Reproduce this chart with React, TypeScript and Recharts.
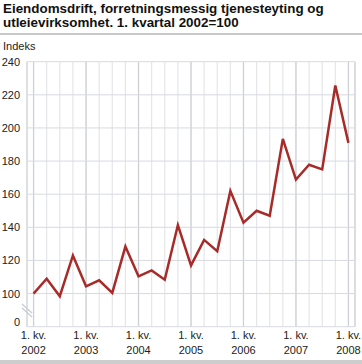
import React from 'react';
import { LineChart, Line, XAxis, YAxis, CartesianGrid } from 'recharts';

const PERIODS = [
  '2002K1', '2002K2', '2002K3', '2002K4',
  '2003K1', '2003K2', '2003K3', '2003K4',
  '2004K1', '2004K2', '2004K3', '2004K4',
  '2005K1', '2005K2', '2005K3', '2005K4',
  '2006K1', '2006K2', '2006K3', '2006K4',
  '2007K1', '2007K2', '2007K3', '2007K4',
  '2008K1',
];

const INDEX_VALUES = [
  100, 109, 98.4, 123,
  104.4, 108, 100.4, 128.4,
  110.4, 114, 108.4, 141.4,
  117, 132.4, 125.6, 162,
  142.8, 150, 147, 193.4,
  168.8, 177.8, 175, 225.6,
  191,
];

// 80 is where the broken axis shows "0"
const Y_TICKS = [80, 100, 120, 140, 160, 180, 200, 220, 240];
const X_TICK_LABEL = '1. kv.';

const DATA = PERIODS.map((p, i) => ({ period: p, x: i, value: INDEX_VALUES[i] }));
const YEAR_TICKS = DATA.filter((d) => d.period.endsWith('K1')).map((d) => d.x);
const QUARTER_TICKS = DATA.map((d) => d.x);

const FONT = '"Liberation Sans", Arial, sans-serif';

function XTick(props: any) {
  const { x, y, payload } = props;
  const year = PERIODS[payload.value].slice(0, 4);
  return (
    <text x={x} y={y} textAnchor="middle" fontSize={11} fill="#222" fontFamily={FONT}>
      <tspan x={x} dy={4}>{X_TICK_LABEL}</tspan>
      <tspan x={x} dy={15}>{year}</tspan>
    </text>
  );
}

function YTick(props: any) {
  const { x, y, payload } = props;
  const isBreak = payload.value === Y_TICKS[0];
  return (
    <text x={x} y={y} dy={isBreak ? -1 : 4} textAnchor="end" fontSize={11} fill="#222" fontFamily={FONT}>
      {isBreak ? '0' : payload.value}
    </text>
  );
}

export default function App() {
  return (
    <div style={{ position: 'absolute', left: 0, top: 0, width: 362, height: 364, background: '#fff', fontFamily: FONT }}>
      <div style={{ position: 'absolute', left: 3, top: 2, fontSize: 13.4, fontWeight: 'bold', lineHeight: '13.5px', color: '#111' }}>
        Eiendomsdrift, forretningsmessig tjenesteyting og<br />
        utleievirksomhet. 1. kvartal 2002=100
      </div>
      <div style={{ position: 'absolute', left: 0, top: 33, width: 362, height: 2, background: '#c8c8c8' }} />
      <div style={{ position: 'absolute', left: 3, top: 40, fontSize: 11, color: '#222' }}>Indeks</div>
      <LineChart width={362} height={364} data={DATA} margin={{ top: 61.7, right: 7, bottom: 0, left: 0 }}>
        <CartesianGrid horizontal={false} xAxisId="q" stroke="#e4e6ea" strokeWidth={1.2} />
        <CartesianGrid horizontal={false} stroke="#cdd0d7" strokeWidth={1.2} />
        <CartesianGrid vertical={false} stroke="#d8dae0" strokeWidth={1} />
        <XAxis
          xAxisId="q"
          dataKey="x"
          type="number"
          domain={[-0.5, 24.5]}
          ticks={QUARTER_TICKS}
          interval={0}
          hide
        />
        <XAxis
          dataKey="x"
          type="number"
          domain={[-0.5, 24.5]}
          ticks={YEAR_TICKS}
          tick={<XTick />}
          tickLine={false}
          axisLine={false}
          height={37.3}
          interval={0}
        />
        <YAxis
          domain={[80, 240]}
          ticks={Y_TICKS}
          tick={<YTick />}
          tickLine={false}
          tickSize={5}
          axisLine={{ stroke: '#e0e2e6' }}
          width={27}
          interval={0}
        />
        <Line
          dataKey="value"
          stroke="#a72c29"
          strokeWidth={2.5}
          dot={false}
          isAnimationActive={false}
        />
      </LineChart>
      <svg style={{ position: 'absolute', left: 0, top: 0 }} width={362} height={364}>
        <line x1={22} y1={304} x2={32} y2={313} stroke="#c8ccd3" strokeWidth={1.3} />
        <line x1={22} y1={308} x2={32} y2={317} stroke="#c8ccd3" strokeWidth={1.3} />
      </svg>
      <div style={{ position: 'absolute', left: 0, top: 359.5, width: 362, height: 4, background: '#cdcdcd' }} />
    </div>
  );
}
